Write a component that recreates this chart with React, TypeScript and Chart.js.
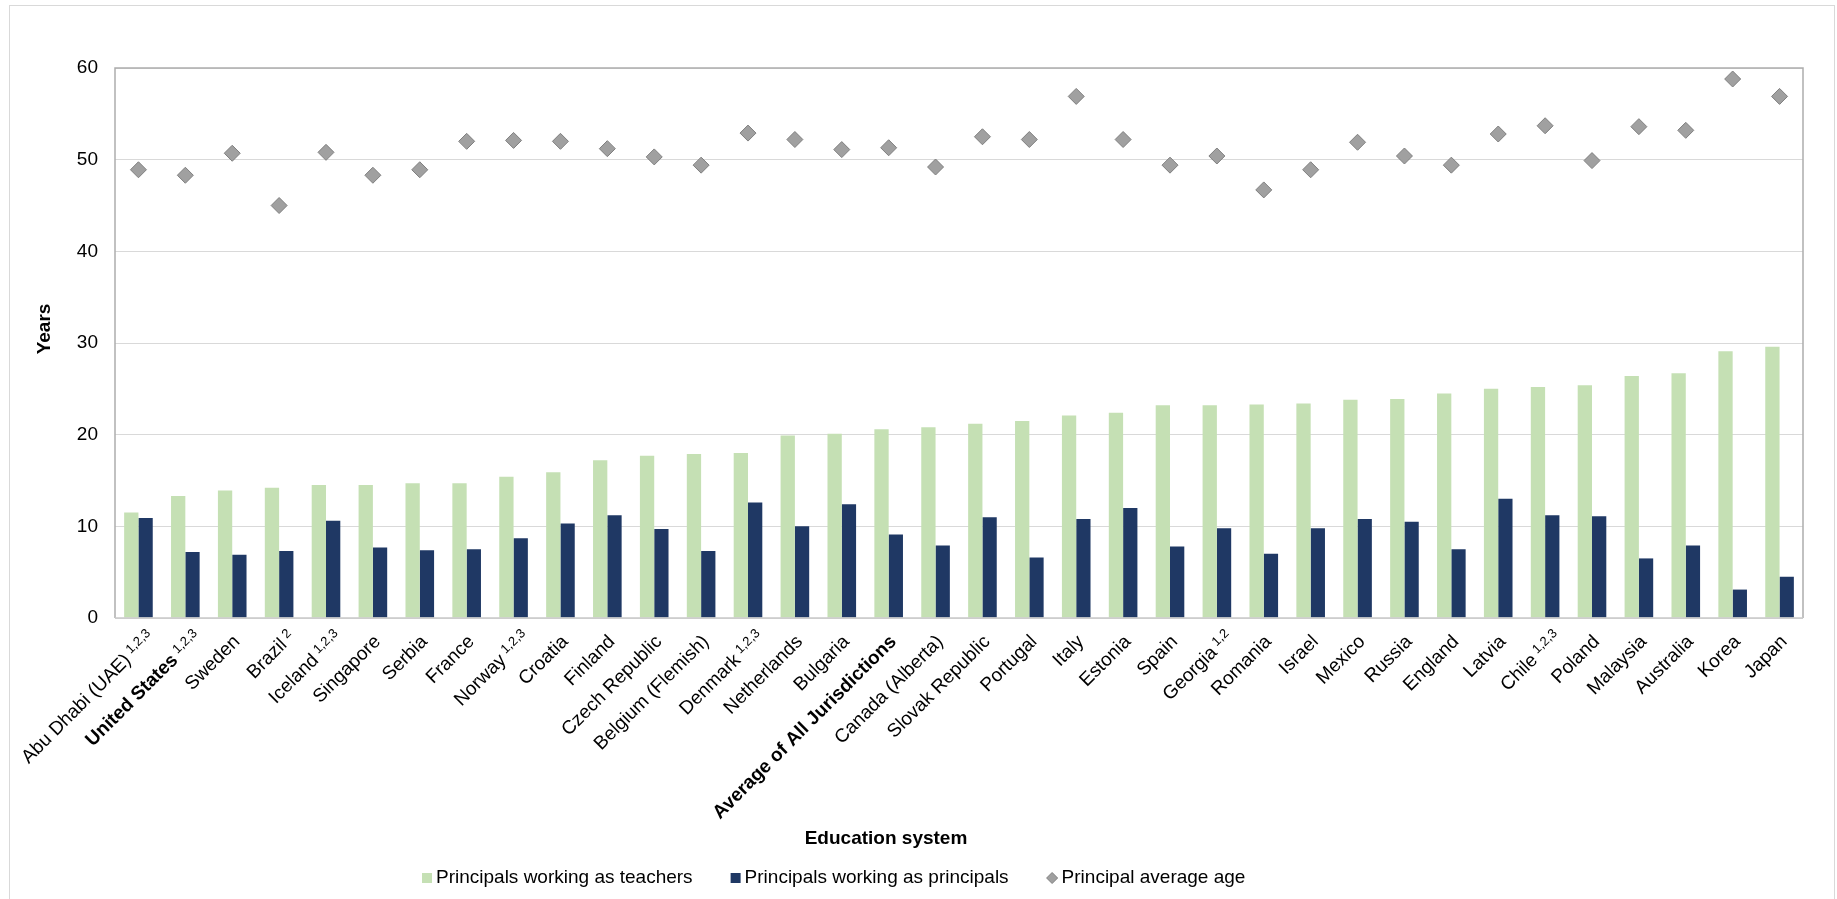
import React, { useEffect, useRef } from "react";
import { Chart, registerables } from "chart.js";

Chart.register(...registerables);

const categories = [
  "Abu Dhabi (UAE)", "United States", "Sweden", "Brazil", "Iceland", "Singapore",
  "Serbia", "France", "Norway", "Croatia", "Finland", "Czech Republic",
  "Belgium (Flemish)", "Denmark", "Netherlands", "Bulgaria", "Average of All Jurisdictions",
  "Canada (Alberta)", "Slovak Republic", "Portugal", "Italy", "Estonia", "Spain",
  "Georgia", "Romania", "Israel", "Mexico", "Russia", "England", "Latvia", "Chile",
  "Poland", "Malaysia", "Australia", "Korea", "Japan",
];

const footnotes = [
  "1,2,3", "1,2,3", "", "2", "1,2,3", "", "", "", "1,2,3", "", "", "",
  "", "1,2,3", "", "", "", "", "", "", "", "", "",
  "1,2", "", "", "", "", "", "", "1,2,3", "", "", "", "", "",
];

const boldCategories = ["United States", "Average of All Jurisdictions"];

const teachersYears = [
  11.5, 13.3, 13.9, 14.2, 14.5, 14.5, 14.7, 14.7, 15.4, 15.9, 17.2, 17.7,
  17.9, 18.0, 19.9, 20.1, 20.6, 20.8, 21.2, 21.5, 22.1, 22.4, 23.2, 23.2,
  23.3, 23.4, 23.8, 23.9, 24.5, 25.0, 25.2, 25.4, 26.4, 26.7, 29.1, 29.6,
];

const principalsYears = [
  10.9, 7.2, 6.9, 7.3, 10.6, 7.7, 7.4, 7.5, 8.7, 10.3, 11.2, 9.7,
  7.3, 12.6, 10.0, 12.4, 9.1, 7.9, 11.0, 6.6, 10.8, 12.0, 7.8, 9.8,
  7.0, 9.8, 10.8, 10.5, 7.5, 13.0, 11.2, 11.1, 6.5, 7.9, 3.1, 4.5,
];

const averageAge = [
  48.9, 48.3, 50.7, 45.0, 50.8, 48.3, 48.9, 52.0, 52.1, 52.0, 51.2, 50.3,
  49.4, 52.9, 52.2, 51.1, 51.3, 49.2, 52.5, 52.2, 56.9, 52.2, 49.4, 50.4,
  46.7, 48.9, 51.9, 50.4, 49.4, 52.8, 53.7, 49.9, 53.6, 53.2, 58.8, 56.9,
];

const seriesNames = [
  "Principals working as teachers",
  "Principals working as principals",
  "Principal average age",
];
const yTicks = [0, 10, 20, 30, 40, 50, 60];
const yTitle = "Years";
const xTitle = "Education system";

const GREEN = "#C5E0B4";
const NAVY = "#1F3864";
const DIAMOND = "#A0A0A0";
const DIAMOND_EDGE = "#7F7F7F";
const FONT = '"Liberation Sans", Arial, sans-serif';

const customDraw = {
  id: "customDraw",
  afterDraw(chart: any) {
    const ctx = chart.ctx;
    const area = chart.chartArea;
    const xs = chart.scales.x;

    // plot frame
    ctx.save();
    ctx.lineWidth = 1.5;
    ctx.strokeStyle = "#ADADAD";
    ctx.beginPath();
    ctx.moveTo(area.left, area.bottom);
    ctx.lineTo(area.left, area.top);
    ctx.lineTo(area.right, area.top);
    ctx.lineTo(area.right, area.bottom);
    ctx.stroke();
    ctx.strokeStyle = "#C8C8C8";
    ctx.beginPath();
    ctx.moveTo(area.left, area.bottom);
    ctx.lineTo(area.right, area.bottom);
    ctx.stroke();
    ctx.restore();

    // category labels
    const d = Math.SQRT1_2;
    categories.forEach((cat, i) => {
      const cx = xs.getPixelForValue(i);
      const y0 = area.bottom;
      const fn = footnotes[i];
      const bold = boldCategories.includes(cat);
      let ax = cx + 4.8;
      let ay = y0 + 20.8;
      if (fn) {
        ax += 9 * d + 2.5 * d;
        ay += -9 * d + 2.5 * d;
      }
      ctx.save();
      ctx.translate(ax, ay);
      ctx.rotate(-Math.PI / 4);
      ctx.fillStyle = "#000";
      ctx.textAlign = "right";
      ctx.textBaseline = "middle";
      let end = 0;
      if (fn) {
        ctx.font = `13px ${FONT}`;
        const w = ctx.measureText(fn).width;
        ctx.fillText(fn, 0, -4);
        end = -(w + 4);
      }
      ctx.font = `${bold ? "bold " : ""}19px ${FONT}`;
      ctx.fillText(cat, end, 0);
      ctx.restore();
    });

    // axis titles
    ctx.save();
    ctx.fillStyle = "#000";
    ctx.font = `bold 19px ${FONT}`;
    ctx.textAlign = "center";
    ctx.textBaseline = "middle";
    ctx.fillText(xTitle, 876, 833);
    ctx.translate(35, 323);
    ctx.rotate(-Math.PI / 2);
    ctx.fillText(yTitle, 0, 0);
    ctx.restore();

    // legend
    ctx.save();
    ctx.font = `19px ${FONT}`;
    ctx.textBaseline = "middle";
    ctx.textAlign = "left";
    const ly = 872;
    let x = 412;
    const colors = [GREEN, NAVY];
    seriesNames.forEach((name, k) => {
      if (k < 2) {
        ctx.fillStyle = colors[k];
        ctx.fillRect(x, ly - 5, 10, 10);
        x += 14;
      } else {
        ctx.fillStyle = DIAMOND;
        ctx.strokeStyle = DIAMOND_EDGE;
        ctx.lineWidth = 1;
        ctx.beginPath();
        ctx.moveTo(x + 5.5, ly - 5.5);
        ctx.lineTo(x + 11, ly);
        ctx.lineTo(x + 5.5, ly + 5.5);
        ctx.lineTo(x, ly);
        ctx.closePath();
        ctx.fill();
        ctx.stroke();
        x += 15;
      }
      ctx.fillStyle = "#000";
      ctx.fillText(name, x, ly);
      x += ctx.measureText(name).width + 38;
    });
    ctx.restore();
  },
};

export default function App() {
  const ref = useRef<HTMLCanvasElement | null>(null);

  useEffect(() => {
    if (!ref.current) return;
    const chart = new Chart(ref.current, {
      type: "bar",
      data: {
        labels: categories,
        datasets: [
          {
            type: "line",
            label: seriesNames[2],
            data: averageAge,
            showLine: false,
            pointStyle: "rectRot",
            pointRadius: 8,
            pointBackgroundColor: DIAMOND,
            pointBorderColor: DIAMOND_EDGE,
            pointBorderWidth: 1,
            backgroundColor: DIAMOND,
            borderColor: DIAMOND_EDGE,
          } as any,
          {
            type: "bar",
            label: seriesNames[0],
            data: teachersYears,
            backgroundColor: GREEN,
            borderWidth: 0,
            categoryPercentage: 0.61,
            barPercentage: 1.0,
          },
          {
            type: "bar",
            label: seriesNames[1],
            data: principalsYears,
            backgroundColor: NAVY,
            borderWidth: 0,
            categoryPercentage: 0.61,
            barPercentage: 1.0,
          },
        ],
      },
      options: {
        responsive: false,
        animation: false,
        devicePixelRatio: 1,
        layout: { padding: { left: 0, right: 31, top: 62, bottom: 0 } },
        plugins: {
          legend: { display: false },
          tooltip: { enabled: false },
          title: { display: false },
        },
        scales: {
          x: {
            type: "category",
            offset: true,
            grid: { display: false, drawTicks: false },
            border: { display: false },
            ticks: { display: false },
            afterFit: (scale: any) => {
              scale.height = 281;
            },
          },
          y: {
            min: 0,
            max: 60,
            afterBuildTicks: (scale: any) => {
              scale.ticks = yTicks.map((v) => ({ value: v }));
            },
            grid: { color: "#D9D9D9", lineWidth: 1, drawTicks: false },
            border: { display: false },
            ticks: {
              padding: 17,
              color: "#000",
              font: { family: FONT, size: 19 },
            },
            afterFit: (scale: any) => {
              scale.width = 105;
            },
          },
        },
      },
      plugins: [customDraw],
    });
    return () => chart.destroy();
  }, []);

  return (
    <div
      style={{
        position: "absolute",
        left: 9,
        top: 5,
        width: 1824,
        height: 893,
        borderTop: "1px solid #D9D9D9",
        borderLeft: "1px solid #D9D9D9",
        borderRight: "1px solid #D9D9D9",
        background: "#fff",
        overflow: "hidden",
      }}
    >
      <canvas ref={ref} width={1824} height={893} style={{ display: "block" }} />
    </div>
  );
}
